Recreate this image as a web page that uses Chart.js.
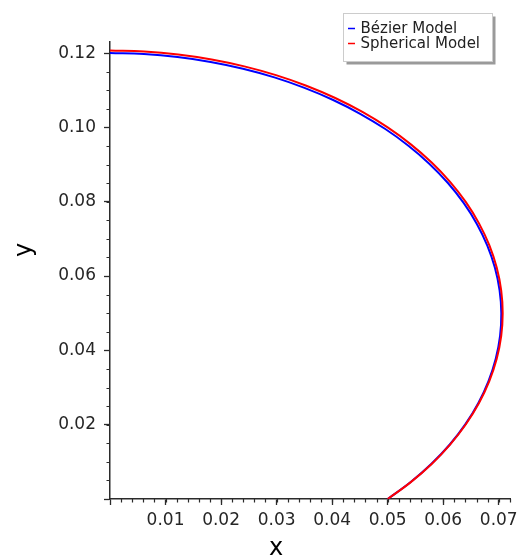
<!DOCTYPE html>
<html>
<head>
<meta charset="utf-8">
<script src="https://cdn.jsdelivr.net/npm/chart.js@4"></script>
<style>
  html, body { margin: 0; padding: 0; background: #ffffff; }
  canvas { display: block; }
</style>
</head>
<body>
<canvas id="chart" width="523" height="556"></canvas>
<script>
// Profile curves: x (horizontal) and y (vertical) coordinates of each model.
const bezierX = [0.050000, 0.054153, 0.057890, 0.061185, 0.064005, 0.066333, 0.068157, 0.069460,
  0.070233, 0.070461, 0.070153, 0.069312, 0.067945, 0.066061, 0.063678, 0.060813, 0.057489,
  0.053731, 0.049576, 0.045047, 0.040185, 0.035021, 0.029597, 0.023949, 0.018120, 0.012157,
  0.006102, 0.000000];
const bezierY = [0.000000, 0.004561, 0.009465, 0.014674, 0.020154, 0.025856, 0.031737, 0.037752,
  0.043855, 0.050000, 0.056138, 0.062222, 0.068206, 0.074045, 0.079694, 0.085111, 0.090254,
  0.095086, 0.099576, 0.103685, 0.107390, 0.110657, 0.113470, 0.115798, 0.117626, 0.118948,
  0.119745, 0.120011];

const sphericalX = [0.050000, 0.054168, 0.057923, 0.061237, 0.064086, 0.066446, 0.068302, 0.069637,
  0.070442, 0.070711, 0.070442, 0.069637, 0.068302, 0.066446, 0.064086, 0.061237, 0.057923,
  0.054168, 0.050000, 0.045452, 0.040558, 0.035355, 0.029884, 0.024184, 0.018301, 0.012279,
  0.006163, 0.000000];
const sphericalY = [0.000000, 0.004548, 0.009442, 0.014645, 0.020116, 0.025816, 0.031699, 0.037721,
  0.043837, 0.050000, 0.056163, 0.062279, 0.068301, 0.074184, 0.079884, 0.085355, 0.090558,
  0.095452, 0.100000, 0.104168, 0.107923, 0.111237, 0.114086, 0.116446, 0.118302, 0.119637,
  0.120442, 0.120711];

const seriesNames = ['Bézier Model', 'Spherical Model'];
const seriesColors = ['#0000ff', '#ff0000'];

// Axis ticks (0 carries a tick mark but no label)
const xTicks = [0, 0.01, 0.02, 0.03, 0.04, 0.05, 0.06, 0.07];
const yTicks = [0, 0.02, 0.04, 0.06, 0.08, 0.10, 0.12];
const xMinorStep = 0.002;
const yMinorStep = 0.005;
const xLabel = 'x';
const yLabel = 'y';

const FONT = 'DejaVu Sans';
const AXIS_COLOR = '#2b2b2b';

function toPoints(xs, ys) {
  return xs.map((x, i) => ({ x: x, y: ys[i] }));
}

// Short minor ticks between the major ones, plus the axis titles and the boxed legend.
const decorations = {
  id: 'decorations',
  afterDraw(chart) {
    const ctx = chart.ctx;
    const xs = chart.scales.x;
    const ys = chart.scales.y;
    const area = chart.chartArea;
    ctx.save();
    ctx.strokeStyle = AXIS_COLOR;
    ctx.lineWidth = 1.2;
    ctx.beginPath();
    for (let v = xMinorStep; v <= xs.max + 1e-9; v += xMinorStep) {
      const px = Math.round(xs.getPixelForValue(v)) + 0.5;
      ctx.moveTo(px, area.bottom);
      ctx.lineTo(px, area.bottom + 3.5);
    }
    for (let v = yMinorStep; v <= ys.max + 1e-9; v += yMinorStep) {
      const py = Math.round(ys.getPixelForValue(v)) + 0.5;
      ctx.moveTo(area.left, py);
      ctx.lineTo(area.left - 3.5, py);
    }
    ctx.stroke();

    // axis titles
    ctx.fillStyle = '#000000';
    ctx.font = '24px "' + FONT + '"';
    ctx.textAlign = 'center';
    ctx.textBaseline = 'alphabetic';
    ctx.fillText(xLabel, 276, 555);
    ctx.save();
    ctx.translate(31, 250);
    ctx.rotate(-Math.PI / 2);
    ctx.fillText(yLabel, 0, 0);
    ctx.restore();

    // legend
    const bx = 343.5, by = 13.5, bw = 149, bh = 48;
    ctx.fillStyle = '#9a9a9a';
    ctx.fillRect(bx + 3, by + 3, bw, bh);
    ctx.fillStyle = '#ffffff';
    ctx.fillRect(bx, by, bw, bh);
    ctx.strokeStyle = '#cccccc';
    ctx.lineWidth = 1;
    ctx.strokeRect(bx, by, bw, bh);
    ctx.font = '15px "' + FONT + '"';
    ctx.textAlign = 'left';
    ctx.textBaseline = 'middle';
    seriesNames.forEach((name, i) => {
      const ly = 28.5 + i * 15;
      ctx.strokeStyle = seriesColors[i];
      ctx.lineWidth = 1.5;
      ctx.beginPath();
      ctx.moveTo(348, ly);
      ctx.lineTo(355, ly);
      ctx.stroke();
      ctx.fillStyle = '#222222';
      ctx.fillText(name, 360.5, ly + 0.5);
    });
    ctx.restore();
  }
};

const majorTicks = (values) => (scale) => {
  scale.ticks = values.map((v) => ({ value: v }));
};

new Chart(document.getElementById('chart'), {
  type: 'scatter',
  data: {
    datasets: [
      {
        label: seriesNames[0],
        data: toPoints(bezierX, bezierY),
        borderColor: seriesColors[0],
        order: 2
      },
      {
        label: seriesNames[1],
        data: toPoints(sphericalX, sphericalY),
        borderColor: seriesColors[1],
        order: 1
      }
    ]
  },
  options: {
    responsive: false,
    animation: false,
    events: [],
    showLine: true,
    datasets: {
      scatter: { showLine: true, clip: false }
    },
    elements: {
      point: { radius: 0, hoverRadius: 0 },
      line: { borderWidth: 2, tension: 0.4, fill: false }
    },
    layout: { padding: { top: 42, right: 11, left: 0, bottom: 0 } },
    plugins: {
      legend: { display: false },
      tooltip: { enabled: false },
      title: { display: false }
    },
    scales: {
      x: {
        type: 'linear',
        position: 'bottom',
        min: 0,
        max: 0.0722,
        afterBuildTicks: majorTicks(xTicks),
        afterFit(scale) { scale.height = 57; },
        border: { display: true, color: AXIS_COLOR, width: 1.5 },
        grid: {
          display: true,
          drawOnChartArea: false,
          drawTicks: true,
          tickLength: 6,
          tickWidth: 1.3,
          tickColor: AXIS_COLOR
        },
        ticks: {
          autoSkip: false,
          maxRotation: 0,
          padding: 5,
          color: '#262626',
          font: { family: FONT, size: 17 },
          callback: (v) => (v === 0 ? '' : Number(v).toFixed(2))
        }
      },
      y: {
        type: 'linear',
        position: 'left',
        min: 0,
        max: 0.123,
        afterBuildTicks: majorTicks(yTicks),
        afterFit(scale) { scale.width = 110; },
        border: { display: true, color: AXIS_COLOR, width: 1.5 },
        grid: {
          display: true,
          drawOnChartArea: false,
          drawTicks: true,
          tickLength: 6,
          tickWidth: 1.3,
          tickColor: AXIS_COLOR
        },
        ticks: {
          autoSkip: false,
          padding: 8,
          color: '#262626',
          font: { family: FONT, size: 17 },
          callback: (v) => (v === 0 ? '' : Number(v).toFixed(2))
        }
      }
    }
  },
  plugins: [decorations]
});
</script>
</body>
</html>
